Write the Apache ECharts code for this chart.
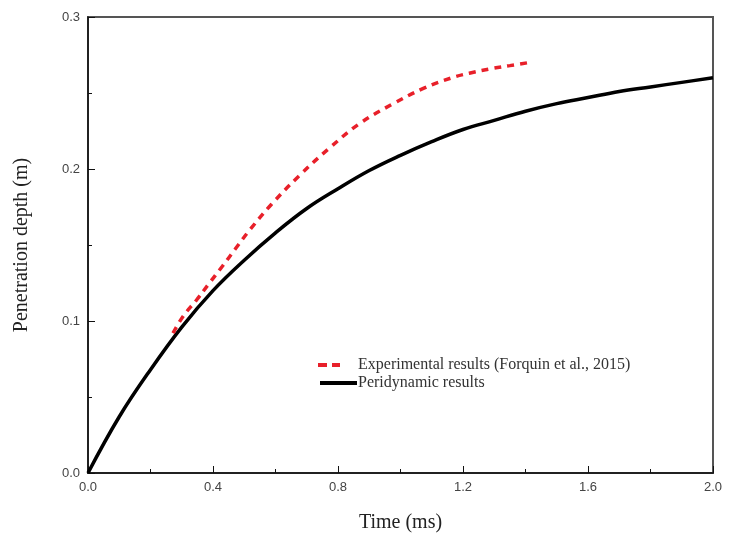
<!DOCTYPE html>
<html lang="en">
<head>
    <meta charset="UTF-8">
    <title>Penetration depth</title>
    <script src="https://cdn.jsdelivr.net/npm/echarts@6/dist/echarts.min.js"></script>
    <style>
        html, body { margin: 0; padding: 0; background: #fff; }
        #main { width: 729px; height: 541px; }
    </style>
</head>
<body>
<div id="main"></div>
<script>
    // experimental data (Forquin et al., 2015): time in ms, depth in m
    var expTime  = [0.272, 0.304, 0.348, 0.385, 0.43, 0.47, 0.518, 0.588, 0.678, 0.774, 0.87, 0.977, 1.073, 1.164, 1.22, 1.29, 1.35, 1.41];
    var expDepth = [0.092, 0.103, 0.114, 0.124, 0.136, 0.147, 0.160, 0.177, 0.196, 0.214, 0.230, 0.243, 0.253, 0.260, 0.263, 0.266, 0.268, 0.270];

    // peridynamic results
    var pdTime  = [0, 0.1, 0.2, 0.3, 0.4, 0.5, 0.6, 0.7, 0.8, 0.9, 1.0, 1.1, 1.2, 1.3, 1.4, 1.5, 1.6, 1.7, 1.8, 1.9, 2.0];
    var pdDepth = [0, 0.037, 0.068, 0.096, 0.120, 0.140, 0.158, 0.174, 0.187, 0.199, 0.209, 0.218, 0.226, 0.232, 0.238, 0.243, 0.247, 0.251, 0.254, 0.257, 0.260];

    var names = ['Experimental results (Forquin et al., 2015)', 'Peridynamic results'];

    function pairs(xs, ys) {
        var out = [];
        for (var i = 0; i < xs.length; i++) {
            out.push([xs[i], ys[i]]);
        }
        return out;
    }

    var serif = '"Liberation Serif", "DejaVu Serif", serif';
    var sans = '"Liberation Sans", Arial, sans-serif';

    // legend icons: two red dashes (tiny dot at the end keeps the width) / one solid bar
    var dashIcon = 'path://M0,0H9V4H0Z M14,0H22V4H14Z M38.9,0H39V0.01H38.9Z';
    var solidIcon = 'path://M2,0H39V4H2Z M0,0H0.1V0.01H0Z';

    var myChart = echarts.init(document.getElementById('main'));
    var option = {
        animation: false,
        backgroundColor: '#fff',
        grid: {
            left: 88, right: 16, top: 17, bottom: 68,
            show: true, borderColor: '#555', borderWidth: 2
        },
        legend: {
            orient: 'vertical',
            left: 313,
            top: 352,
            itemWidth: 39,
            itemHeight: 4,
            itemGap: 2,
            textStyle: { fontFamily: serif, fontSize: 16, lineHeight: 13, color: '#333', padding: [0, 0, 0, -4] },
            data: [
                { name: names[0], icon: dashIcon, itemStyle: { color: '#e8202a' } },
                { name: names[1], icon: solidIcon, itemStyle: { color: '#000' } }
            ]
        },
        xAxis: {
            type: 'value',
            min: 0, max: 2.0, interval: 0.4,
            name: 'Time (ms)',
            nameLocation: 'middle',
            nameGap: 40,
            nameTextStyle: { fontFamily: serif, fontSize: 20, color: '#222' },
            axisLine: { lineStyle: { color: '#111', width: 1.5 } },
            axisTick: { inside: true, length: 7, lineStyle: { color: '#111' } },
            minorTick: { show: true, splitNumber: 2, length: 4, lineStyle: { color: '#111' } },
            axisLabel: {
                fontFamily: sans, fontSize: 13, color: '#444', margin: 8,
                formatter: function (v) { return v.toFixed(1); }
            },
            splitLine: { show: false }
        },
        yAxis: {
            type: 'value',
            min: 0, max: 0.3, interval: 0.1,
            name: 'Penetration depth (m)',
            nameLocation: 'middle',
            nameGap: 56,
            nameTextStyle: { fontFamily: serif, fontSize: 20, color: '#222' },
            axisLine: { show: true, lineStyle: { color: '#111', width: 1.5 } },
            axisTick: { show: true, inside: true, length: 7, lineStyle: { color: '#111' } },
            minorTick: { show: true, splitNumber: 2, length: 4, lineStyle: { color: '#111' } },
            axisLabel: {
                fontFamily: sans, fontSize: 13, color: '#444', margin: 8,
                formatter: function (v) { return v.toFixed(1); }
            },
            splitLine: { show: false }
        },
        series: [{
            name: names[0],
            type: 'line',
            smooth: 0.4,
            symbol: 'none',
            data: pairs(expTime, expDepth),
            itemStyle: { color: '#e8202a' },
            lineStyle: { color: '#e8202a', width: 3.5, type: [7, 6] },
            z: 3
        }, {
            name: names[1],
            type: 'line',
            smooth: 0.4,
            symbol: 'none',
            data: pairs(pdTime, pdDepth),
            itemStyle: { color: '#000' },
            lineStyle: { color: '#000', width: 3.5 },
            z: 2
        }]
    };
    myChart.setOption(option);
</script>
</body>
</html>
